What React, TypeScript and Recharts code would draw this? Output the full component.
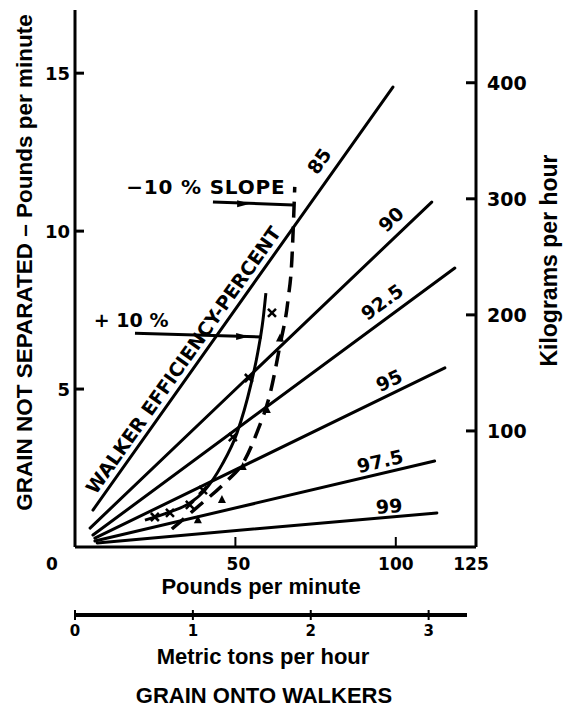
import React from "react";
import {
  ComposedChart,
  Line,
  XAxis,
  YAxis,
  ReferenceLine,
  ReferenceDot,
  Label,
} from "recharts";

// walker efficiency lines (percent), start / end points in lb/min
const effNames = ["85", "90", "92.5", "95", "97.5", "99"];
const effStartX = [5.6, 4.7, 5.6, 6.2, 6.2, 6.9];
const effStartY = [1.17, 0.6, 0.38, 0.28, 0.19, 0.13];
const effEndX = [99.1, 111.2, 118.4, 115.3, 112.1, 112.8];
const effEndY = [14.56, 10.92, 8.83, 5.67, 2.72, 1.08];
const effLabelX = [76.1, 98.5, 95.7, 97.9, 95.1, 97.9];
const effLabelY = [12.22, 10.38, 7.76, 5.28, 2.72, 1.3];
const effLabelAngle = [-55, -44, -36, -25, -13, -5];

// +10 % slope curve (solid) and -10 % slope curve (dashed)
const plusX = [21.8, 29.6, 35.8, 40.5, 45.8, 50.5, 54.8, 57.0, 58.6, 59.5];
const plusY = [0.85, 1.11, 1.39, 1.8, 2.6, 3.61, 5.13, 6.17, 7.19, 8.04];
const minusX = [30.2, 38.9, 46.7, 52.9, 57.0, 60.7, 63.9, 66.4, 67.6, 68.5];
const minusY = [0.57, 1.33, 2.03, 2.75, 3.7, 4.81, 6.39, 7.82, 9.09, 11.4];

// plotted test points
const crossX = [24.9, 29.6, 35.8, 39.9, 49.2, 54.2, 61.4];
const crossY = [0.95, 1.08, 1.33, 1.8, 3.48, 5.35, 7.41];
const triX = [38.3, 45.8, 52.3, 59.8, 63.9];
const triY = [0.85, 1.49, 2.53, 4.34, 6.6];

// annotation arrows
const arrowFromX = [18.7, 43.0];
const arrowFromY = [6.77, 10.92];
const arrowToX = [58.3, 68.0];
const arrowToY = [6.65, 10.83];
const arrowHeadX = [52.1, 52.4];
const arrowHeadY = [6.66, 10.87];

const noteText = ["+ 10 %", "\u221210 % SLOPE", "WALKER EFFICIENCY-PERCENT"];
const noteX = [17.5, 40.8, 33.7];
const noteY = [7.19, 11.4, 5.92];
const noteAngle = [0, 0, -54.7];

const xTicks = [0, 50, 100, 125];
const lbTicks = [5, 10, 15];
const kgTicks = [100, 200, 300, 400];
const tonTicks = [0, 1, 2, 3];

const X_MAX = 125;
const Y_MAX = 17;
const KG_PER_LB_MIN = 27.216; // kg/hr for 1 lb/min
const LB_MIN_PER_TON_H = 36.744; // lb/min for 1 metric ton/hr

const HAND = "'DejaVu Sans', sans-serif";
const SANS = "'Liberation Sans', Arial, sans-serif";

const toPts = (xs: number[], ys: number[]) => xs.map((x, i) => ({ x, y: ys[i] }));

const XTick = (p: any) => {
  const v = p.payload.value;
  const dx = v === 0 ? -23 : v === 125 ? -5 : v === 50 ? 3 : 0;
  return (
    <g>
      {v > 0 && v < 125 && (
        <line x1={p.x} x2={p.x} y1={p.y} y2={p.y - 10} stroke="#000" strokeWidth={2} />
      )}
      <text
        x={p.x + dx}
        y={p.y + 17}
        textAnchor="middle"
        dominantBaseline="central"
        fontFamily={HAND}
        fontWeight="bold"
        fontSize={17}
      >
        {v}
      </text>
    </g>
  );
};

const LbTick = (p: any) => (
  <g>
    <line x1={p.x} x2={p.x + 9} y1={p.y} y2={p.y} stroke="#000" strokeWidth={3} />
    <text
      x={p.x - 5}
      y={p.y}
      textAnchor="end"
      dominantBaseline="central"
      fontFamily={HAND}
      fontWeight="bold"
      fontSize={18}
    >
      {p.payload.value}
    </text>
  </g>
);

const KgTick = (p: any) => (
  <g>
    <line x1={p.x - 10} x2={p.x} y1={p.y} y2={p.y} stroke="#000" strokeWidth={3} />
    <text
      x={p.x + 11}
      y={p.y}
      textAnchor="start"
      dominantBaseline="central"
      fontFamily={HAND}
      fontWeight="bold"
      fontSize={19}
    >
      {p.payload.value}
    </text>
  </g>
);

const TonTick = (p: any) => (
  <g>
    <line x1={p.x} x2={p.x} y1={p.y - 5} y2={p.y + 5} stroke="#000" strokeWidth={2} />
    <text
      x={p.x}
      y={p.y + 16}
      textAnchor="middle"
      dominantBaseline="central"
      fontFamily={HAND}
      fontWeight="bold"
      fontSize={15}
    >
      {p.payload.value}
    </text>
  </g>
);

const CrossDot = (p: any) => {
  const { cx, cy } = p;
  if (cx == null || cy == null) return <g />;
  return (
    <path
      d={`M${cx - 4},${cy - 4}L${cx + 4},${cy + 4}M${cx + 4},${cy - 4}L${cx - 4},${cy + 4}`}
      stroke="#000"
      strokeWidth={2.5}
      fill="none"
    />
  );
};

const TriDot = (p: any) => {
  const { cx, cy } = p;
  if (cx == null || cy == null) return <g />;
  return <path d={`M${cx},${cy - 5}L${cx + 4},${cy + 3}L${cx - 4},${cy + 3}Z`} fill="#000" />;
};

const rotatedText = (text: string, angle: number, size: number, spacing = 0) => (p: any) => (
  <text
    x={p.cx}
    y={p.cy}
    transform={`rotate(${angle} ${p.cx} ${p.cy})`}
    textAnchor="middle"
    dominantBaseline="central"
    fontFamily={HAND}
    fontWeight="bold"
    fontSize={size}
    letterSpacing={spacing}
  >
    {text}
  </text>
);

const arrowHead = (p: any) => (
  <path d={`M${p.cx + 7},${p.cy}L${p.cx - 6},${p.cy - 3.5}L${p.cx - 6},${p.cy + 3.5}Z`} fill="#000" />
);

export default function App() {
  return (
    <div style={{ position: "absolute", left: 0, top: 0, background: "#fff" }}>
      <ComposedChart
        width={564}
        height={708}
        margin={{ top: 10, right: 28, bottom: 53, left: 15 }}
      >
        <XAxis
          dataKey="x"
          type="number"
          domain={[0, X_MAX]}
          ticks={xTicks}
          interval={0}
          allowDataOverflow
          height={68}
          tickSize={0}
          tickMargin={0}
          tickLine={false}
          tick={<XTick />}
          axisLine={{ stroke: "#000", strokeWidth: 3 }}
        >
          <Label
            content={(lp: any) => {
              const vb = lp.viewBox;
              return (
                <text
                  x={vb.x + vb.width / 2 - 14.5}
                  y={vb.y + 47}
                  textAnchor="middle"
                  fontFamily={SANS}
                  fontWeight="bold"
                  fontSize={22}
                >
                  Pounds per minute
                </text>
              );
            }}
          />
        </XAxis>
        <XAxis
          xAxisId="t"
          dataKey="x"
          type="number"
          domain={[0, X_MAX / LB_MIN_PER_TON_H]}
          ticks={tonTicks}
          interval={0}
          allowDataOverflow
          height={40}
          tickSize={0}
          tickMargin={0}
          tickLine={false}
          tick={<TonTick />}
          axisLine={{ stroke: "#000", strokeWidth: 4, strokeDasharray: "392 200" }}
        >
          <Label
            content={(lp: any) => {
              const vb = lp.viewBox;
              return (
                <g fontFamily={SANS} fontWeight="bold" fontSize={22} textAnchor="middle">
                  <text x={vb.x + vb.width / 2 - 12.5} y={vb.y + 49}>
                    Metric tons per hour
                  </text>
                  <text x={vb.x + vb.width / 2 - 11.5} y={vb.y + 88}>
                    GRAIN ONTO WALKERS
                  </text>
                </g>
              );
            }}
          />
        </XAxis>
        <YAxis
          type="number"
          domain={[0, Y_MAX]}
          ticks={lbTicks}
          interval={0}
          allowDataOverflow
          width={60}
          tickSize={0}
          tickMargin={0}
          tickLine={false}
          tick={<LbTick />}
          axisLine={{ stroke: "#000", strokeWidth: 3 }}
        >
          <Label
            content={(lp: any) => {
              const vb = lp.viewBox;
              const cx = vb.x + 17;
              const cy = vb.y + vb.height / 2 - 16;
              return (
                <text
                  x={cx}
                  y={cy}
                  transform={`rotate(-90 ${cx} ${cy})`}
                  textAnchor="middle"
                  fontFamily={SANS}
                  fontWeight="bold"
                  fontSize={22.5}
                >
                  GRAIN NOT SEPARATED – Pounds per minute
                </text>
              );
            }}
          />
        </YAxis>
        <YAxis
          yAxisId="kg"
          orientation="right"
          type="number"
          domain={[0, Y_MAX * KG_PER_LB_MIN]}
          ticks={kgTicks}
          interval={0}
          allowDataOverflow
          width={60}
          tickSize={0}
          tickMargin={0}
          tickLine={false}
          tick={<KgTick />}
          axisLine={{ stroke: "#000", strokeWidth: 3 }}
        >
          <Label
            content={(lp: any) => {
              const vb = lp.viewBox;
              const cx = vb.x + 81;
              const cy = vb.y + vb.height / 2 - 18;
              return (
                <text
                  x={cx}
                  y={cy}
                  transform={`rotate(-90 ${cx} ${cy})`}
                  textAnchor="middle"
                  fontFamily={SANS}
                  fontWeight="bold"
                  fontSize={23}
                >
                  Kilograms per hour
                </text>
              );
            }}
          />
        </YAxis>

        {/* invisible series so the metric-ton axis gets a scale */}
        <Line
          xAxisId="t"
          data={tonTicks.map((t) => ({ x: t, y: 0 }))}
          dataKey="y"
          stroke="none"
          dot={false}
          activeDot={false}
          isAnimationActive={false}
        />

        {effNames.map((name, i) => (
          <Line
            key={name}
            data={[
              { x: effStartX[i], y: effStartY[i] },
              { x: effEndX[i], y: effEndY[i] },
            ]}
            dataKey="y"
            type="linear"
            stroke="#000"
            strokeWidth={3}
            strokeLinecap="round"
            dot={false}
            activeDot={false}
            isAnimationActive={false}
          />
        ))}

        <Line
          data={toPts(plusX, plusY)}
          dataKey="y"
          type="monotone"
          stroke="#000"
          strokeWidth={3}
          dot={false}
          activeDot={false}
          isAnimationActive={false}
        />
        <Line
          data={toPts(minusX, minusY)}
          dataKey="y"
          type="monotone"
          stroke="#000"
          strokeWidth={3.5}
          strokeDasharray="16 9"
          dot={false}
          activeDot={false}
          isAnimationActive={false}
        />
        <Line
          data={toPts(crossX, crossY)}
          dataKey="y"
          stroke="none"
          dot={<CrossDot />}
          activeDot={false}
          isAnimationActive={false}
        />
        <Line
          data={toPts(triX, triY)}
          dataKey="y"
          stroke="none"
          dot={<TriDot />}
          activeDot={false}
          isAnimationActive={false}
        />

        {arrowFromX.map((x0, i) => (
          <ReferenceLine
            key={`arrow-${i}`}
            segment={[
              { x: x0, y: arrowFromY[i] },
              { x: arrowToX[i], y: arrowToY[i] },
            ]}
            stroke="#000"
            strokeWidth={3}
            ifOverflow="visible"
          />
        ))}
        {arrowHeadX.map((x, i) => (
          <ReferenceDot key={`head-${i}`} x={x} y={arrowHeadY[i]} r={4} shape={arrowHead} />
        ))}

        {effNames.map((name, i) => (
          <ReferenceDot
            key={`lab-${name}`}
            x={effLabelX[i]}
            y={effLabelY[i]}
            r={1}
            shape={rotatedText(name, effLabelAngle[i], 19)}
          />
        ))}
        {noteText.map((t, i) => (
          <ReferenceDot
            key={`note-${i}`}
            x={noteX[i]}
            y={noteY[i]}
            r={1}
            shape={rotatedText(t, noteAngle[i], i === 1 ? 20 : 19, i === 1 ? 0.8 : 0)}
          />
        ))}
      </ComposedChart>
    </div>
  );
}
